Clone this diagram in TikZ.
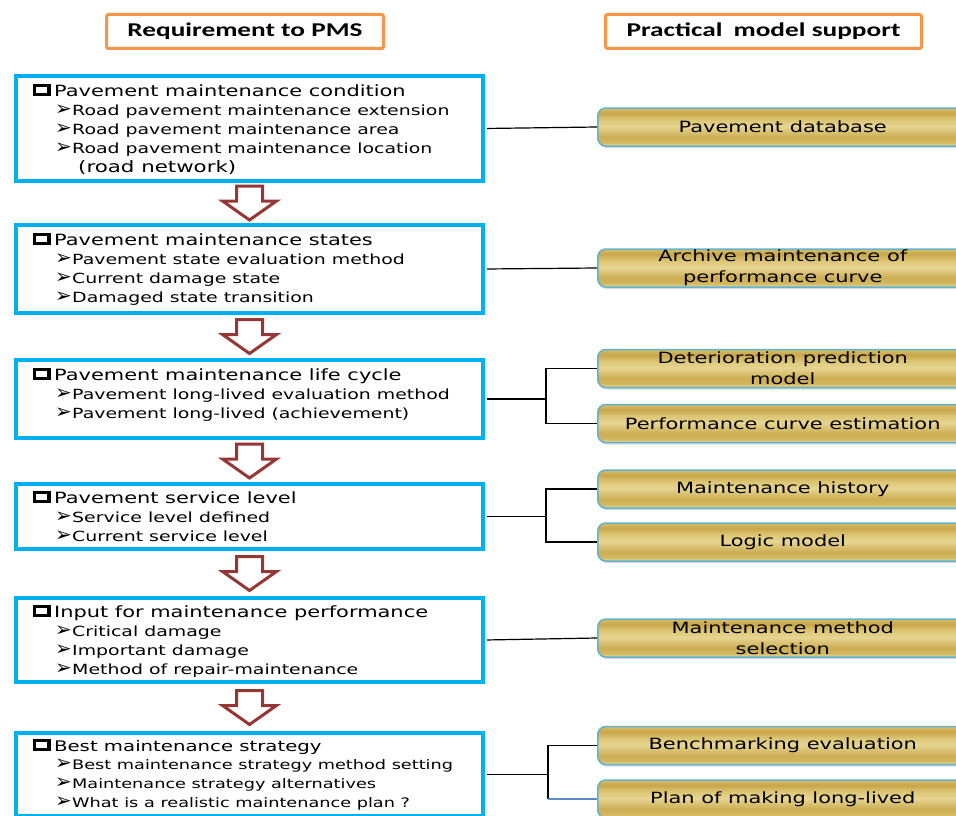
\documentclass[tikz,border=0pt]{standalone}
\usepackage{fontspec}
\usepackage{xcolor}
\usetikzlibrary{positioning,calc,shadows}

\newfontfamily\bodyfont{DejaVu Sans}[FakeStretch=1.35]
\newfontfamily\headfont{Carlito}[FakeStretch=1.4]
\newfontfamily\dingfont{DejaVu Sans}

\definecolor{reqblue}{HTML}{00B0F0}
\definecolor{headorange}{HTML}{F79646}
\definecolor{arrowred}{HTML}{953735}
\definecolor{goldedge}{HTML}{5FB3CE}
\definecolor{linkblue}{HTML}{5B8BC9}
\definecolor{goldA}{HTML}{EADB9F}
\definecolor{goldB}{HTML}{D2B65E}
\definecolor{goldC}{HTML}{CDAE55}
\definecolor{goldD}{HTML}{E6D592}
\definecolor{goldE}{HTML}{DCC574}
\definecolor{goldF}{HTML}{C9A64A}
\definecolor{goldG}{HTML}{D8BD68}

% gold bar of the model boxes (bottom to top)
\pgfdeclareverticalshading{goldbar}{100bp}{%
  color(0bp)=(goldA); color(25bp)=(goldA);
  color(30bp)=(goldB); color(37bp)=(goldC);
  color(51bp)=(goldD); color(60bp)=(goldE);
  color(68bp)=(goldF); color(75bp)=(goldG);
  color(100bp)=(goldG)}

\newcommand{\boxmark}{\vbox{\hrule height 2.6pt\hbox{\vrule width 3.2pt height 6.6pt\hspace{11pt}\vrule width 3.2pt}\hrule height 2.6pt}\hspace{3.5pt}}
\newcommand{\mainitem}[2][15.5]{\boxmark{\fontsize{#1}{19}\selectfont #2}}
\newcommand{\subarrow}{\hspace*{22pt}\makebox[17pt][l]{\dingfont\fontsize{20}{19}\selectfont ➢}}

\begin{document}
\begin{tikzpicture}[
  x=1pt, y=-1pt,
  headbox/.style={draw=headorange, line width=3pt, rounded corners=2pt, fill=white, inner sep=0pt, font=\headfont\bfseries\fontsize{19.5}{21}\selectfont},
  reqbox/.style={draw=reqblue, line width=4pt, fill=white, minimum width=467pt, anchor=north west, inner sep=0pt},
  itemtext/.style={font=\bodyfont\fontsize{14}{19}\selectfont, align=left, inner sep=0pt},
  modelbox/.style={draw=goldedge, line width=1.5pt, rounded corners=8pt, shade, shading=goldbar, minimum width=370pt, minimum height=38pt, anchor=west, align=center, inner sep=0pt, font=\bodyfont\fontsize{15.5}{21}\selectfont, drop shadow={shadow xshift=1pt, shadow yshift=-2pt, opacity=0.3}},
  link/.style={draw=black, line width=1.2pt},
  downarrow/.style={draw=arrowred, line width=3pt, fill=white, line join=miter},
]
\useasboundingbox (0,0) rectangle (956,816);

% column headers
\node[headbox, minimum width=277pt, minimum height=34pt] (head1) at (245,31.5) {Requirement to PMS};
\node[headbox, minimum width=316pt, minimum height=34pt] (head2) at (763.5,31.5) {Practical\hspace{5pt} model support};

% requirement boxes
\node[reqbox, minimum height=105pt] (L1) at (14,74) {};
\node[itemtext, below right=10pt and 19pt of L1.north west] (L1text) {%
  \mainitem{Pavement maintenance condition}\\
  \subarrow Road pavement maintenance extension\\
  \subarrow Road pavement maintenance area\\
  \subarrow Road pavement maintenance location\\
  \hspace*{45pt}{\fontsize{15.8}{19}\selectfont (road network)}};

\node[reqbox, minimum height=88pt] (L2) at (14,223) {};
\node[itemtext, below right=10pt and 19pt of L2.north west] (L2text) {%
  \mainitem{Pavement maintenance states}\\
  \subarrow Pavement state evaluation method\\
  \subarrow Current damage state\\
  \subarrow Damaged state transition};

\node[reqbox, minimum height=78pt] (L3) at (14,358) {};
\node[itemtext, below right=10pt and 19pt of L3.north west] (L3text) {%
  \mainitem{Pavement maintenance life cycle}\\
  \subarrow Pavement long-lived evaluation method\\
  \subarrow Pavement long-lived (achievement)};

\node[reqbox, minimum height=65pt] (L4) at (14,482) {};
\node[itemtext, below right=9pt and 19pt of L4.north west] (L4text) {%
  \mainitem{Pavement service level}\\
  \subarrow Service level defined\\
  \subarrow Current service level};

\node[reqbox, minimum height=84pt] (L5) at (14,596) {};
\node[itemtext, below right=9pt and 19pt of L5.north west] (L5text) {%
  \mainitem{Input for maintenance performance}\\
  \subarrow Critical damage\\
  \subarrow Important damage\\
  \subarrow Method of repair-maintenance};

\node[reqbox, minimum height=83pt] (L6) at (14,731) {};
\node[itemtext, font=\bodyfont\fontsize{13.1}{18.7}\selectfont, below right=8pt and 19pt of L6.north west] (L6text) {%
  \mainitem[14.6]{Best maintenance strategy}\\
  \subarrow Best maintenance strategy method setting\\
  \subarrow Maintenance strategy alternatives\\
  \subarrow What is a realistic maintenance plan ?};

% hollow arrows between the requirement boxes
\foreach \a/\b in {L1/L2, L2/L3, L3/L4, L4/L5, L5/L6} {
  \coordinate (mid) at ($(\a.south)!0.5!(\b.north)$);
  \draw[downarrow] (mid) ++(-13,-17) -- ++(26,0) -- ++(0,15) -- ++(14,0)
    -- ++(-27,19) -- ++(-27,-19) -- ++(14,0) -- cycle;
}

% model support boxes
\node[modelbox] (P1) at (597,127) {Pavement database};
\node[modelbox] (P2) at (597,268) {Archive maintenance of\\performance curve};
\node[modelbox] (P3) at (597,368.5) {Deterioration prediction\\model};
\node[modelbox] (P4) at (597,423.5) {Performance curve estimation};
\node[modelbox] (P5) at (597,489) {Maintenance history};
\node[modelbox] (P6) at (597,542) {Logic model};
\node[modelbox] (P7) at (597,638) {Maintenance method\\selection};
\node[modelbox] (P8) at (597,745.5) {Benchmarking evaluation};
\node[modelbox] (P9) at (597,799) {Plan of making long-lived};

% links
\draw[link, shorten <=2pt] (L1.east) -- (P1.west);
\draw[link, shorten <=2pt] (L2.east) -- (P2.west);
\draw[link, shorten <=2pt] (L3.east) -- ++(61,0) coordinate (f3);
\draw[link] (P3.west) -| (f3) |- (P4.west);
\draw[link, shorten <=2pt] (L4.east) -- ++(61,0) coordinate (f4);
\draw[link] (P5.west) -| (f4) |- (P6.west);
\draw[link, shorten <=2pt] (L5.east) -- (P7.west);
\draw[link, shorten <=2pt] (L6.east) -- ++(63,0) coordinate (f6);
\draw[link] (P8.west) -| (f6) -- (f6 |- P9.west);
\draw[link, draw=linkblue] (f6 |- P9.west) -- (P9.west);

\end{tikzpicture}
\end{document}
